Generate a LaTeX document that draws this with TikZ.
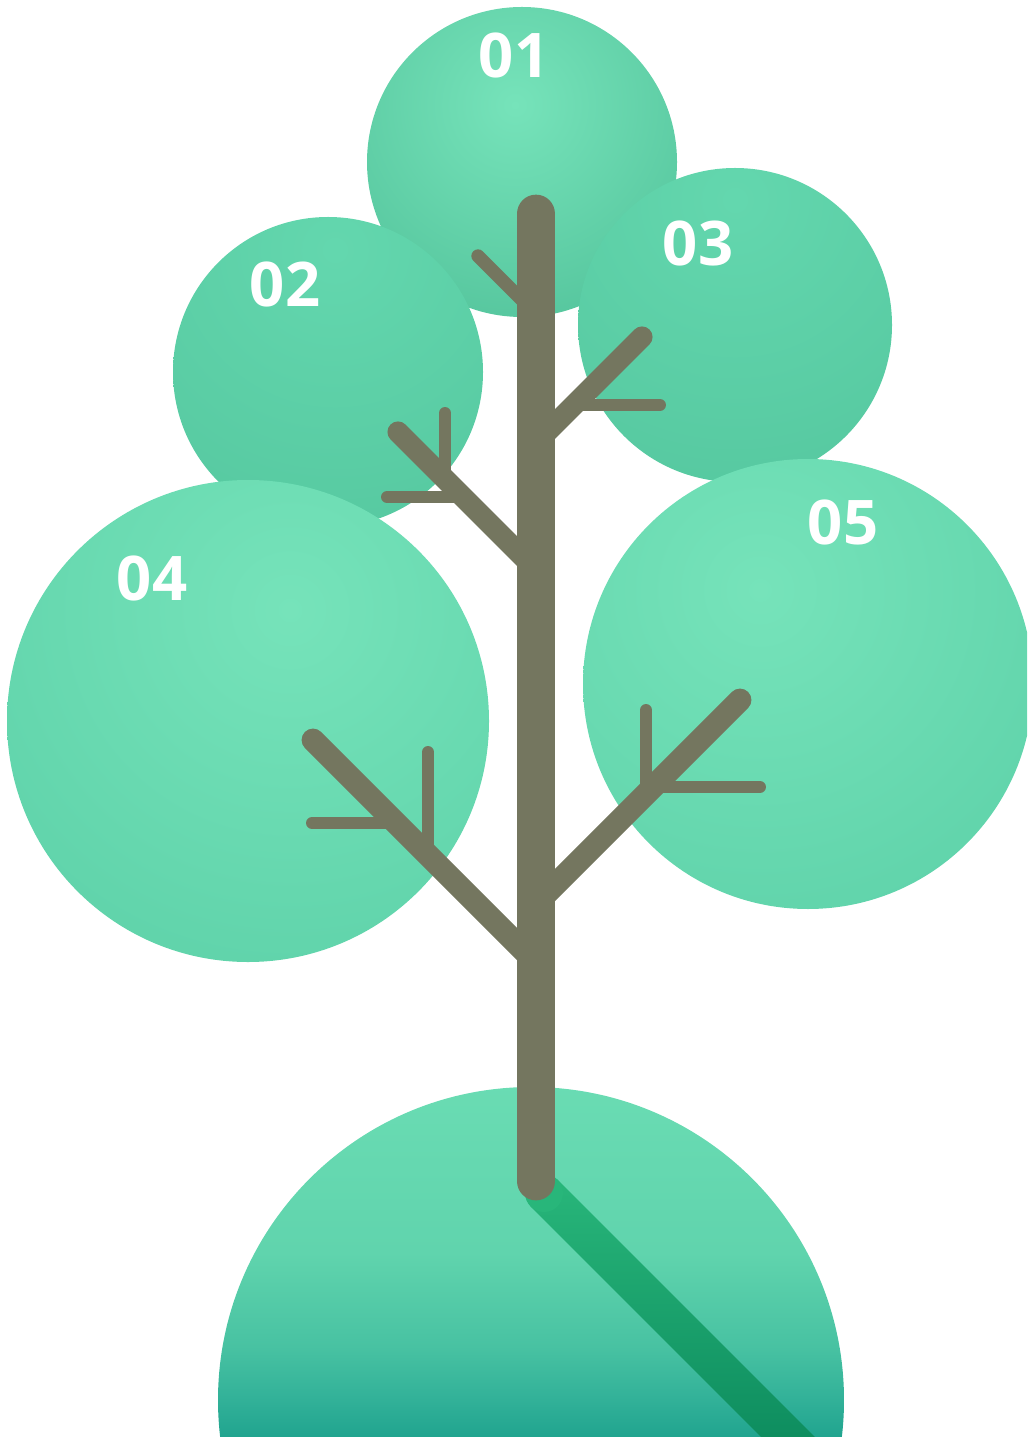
\documentclass[tikz,border=0pt]{standalone}
\usepackage{fontspec}
\newfontfamily\leaffont{Open Sans}
\usetikzlibrary{calc}
\definecolor{leaflight}{HTML}{76E3BA}
\definecolor{leafmid}{HTML}{60D5AC}
\definecolor{leafdark}{HTML}{4BBC94}
\definecolor{bark}{HTML}{74765F}
\definecolor{groundtop}{HTML}{6ADCB3}
\definecolor{groundmid}{HTML}{60D4AD}
\definecolor{groundlow}{HTML}{48C2A2}
\definecolor{groundfoot}{HTML}{33B299}
\definecolor{groundbot}{HTML}{1FA38E}
\definecolor{shadowtop}{HTML}{28B67A}
\definecolor{shadowbot}{HTML}{0B895C}
% ground fades to teal only near its foot
\pgfdeclareverticalshading{groundfade}{100bp}{color(0bp)=(groundbot); color(25bp)=(groundbot);
  color(31bp)=(groundfoot); color(38bp)=(groundlow); color(51bp)=(groundmid);
  color(75bp)=(groundtop); color(100bp)=(groundtop)}

\tikzset{
  leaflabel/.style={text=white, font=\leaffont\bfseries\fontsize{17.5}{20}\selectfont, inner sep=0pt},
  trunkline/.style={bark, line width=11pt, line cap=round},
  branchline/.style={bark, line width=6pt, line cap=round},
  thinbranch/.style={bark, line width=3.8pt, line cap=round},
  twigline/.style={bark, line width=3.4pt, line cap=round},
}

\begin{document}
\begin{tikzpicture}[x=0.01cm, y=-0.01cm]
        \useasboundingbox (0,0) rectangle (1027,1437);
        \clip (0,0) rectangle (1027,1437);
        % Crowns, from back to front
        \begin{scope}
          \clip (522,162) circle (155);
          \shade[inner color=leaflight, outer color=leafdark] (515,105) circle (300);
        \end{scope}
        \begin{scope}
          \clip (328,372) circle (155);
          \shade[inner color=leafmid!85!leaflight, outer color=leafdark] (335,250) circle (560);
        \end{scope}
        \begin{scope}
          \clip (735,325) circle (157);
          \shade[inner color=leafmid!85!leaflight, outer color=leafdark] (735,200) circle (560);
        \end{scope}
        \begin{scope}
          \clip (248,721) circle (241);
          \shade[inner color=leaflight, outer color=leafmid!85!leafdark] (290,610) circle (420);
        \end{scope}
        \begin{scope}
          \clip (808,684) circle (225);
          \shade[inner color=leaflight, outer color=leafmid!85!leafdark] (760,590) circle (400);
        \end{scope}
        % Ground and the trunk's shadow on it
        \begin{scope}
          \clip (531,1400) circle (313);
          \shade[shading=groundfade] (200,1080) rectangle (860,1440);
        \end{scope}
        \shade[top color=shadowtop, bottom color=shadowbot]
          (557.4,1179.6) -- (817.4,1439.6) -- (790.6,1466.4) -- (530.6,1206.4) -- cycle;
        \fill[shadowtop] (544,1193) circle (19);
        % Trunk
        \coordinate (trunktop) at (536,214);
        \coordinate (trunkfoot) at (536,1181);
        \draw[trunkline] (trunktop) -- (trunkfoot);
        % Branches
        \draw[thinbranch] (536,314) -- (478,256);
        \draw[branchline] (536,443) -- (642,337);
        \draw[branchline] (536,570) -- (398,432);
        \draw[branchline, line width=6.5pt] (536,963) -- (313,740);
        \draw[branchline, line width=6.5pt] (536,904) -- (740,700);
        % Twigs
        \draw[twigline] (574,405) -- (660,405);
        \draw[twigline] (445,413) -- (445,479);
        \draw[twigline] (387,497) -- (463,497);
        \draw[twigline] (428,752) -- (428,855);
        \draw[twigline] (312,823) -- (396,823);
        \draw[twigline] (646,710) -- (646,794);
        \draw[twigline] (653,787) -- (760,787);
        % Labels
        \node[leaflabel] (lbl01) at (514,55) {01};
        \node[leaflabel] (lbl02) at (285,284) {02};
        \node[leaflabel] (lbl03) at (698,243) {03};
        \node[leaflabel] (lbl04) at (152,578) {04};
        \node[leaflabel] (lbl05) at (843,522) {05};
\end{tikzpicture}
\end{document}
